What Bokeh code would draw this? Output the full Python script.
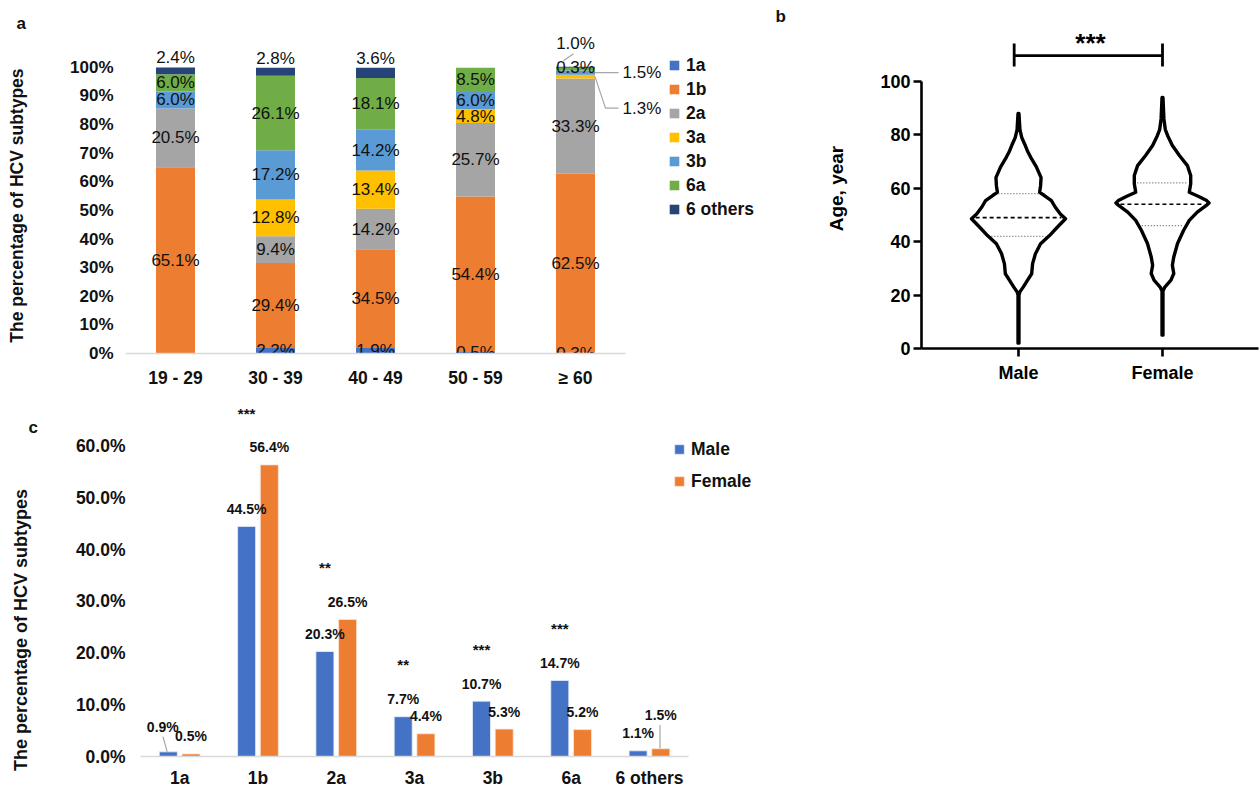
import numpy as np
from bokeh.plotting import figure
from bokeh.layouts import column, row
from bokeh.models import ColumnDataSource, FixedTicker, Legend, LegendItem, Range1d, Title
from bokeh.transform import dodge
from bokeh.embed import file_html
from bokeh.resources import INLINE
from bokeh.core.properties import value

FONT = "Liberation Sans"
INK = "#111111"
NBSP = "\u00a0"

# ---------------- data: panel a ----------------
age_groups = ["19 - 29", "30 - 39", "40 - 49", "50 - 59", "≥ 60"]
subtypes = ["1a", "1b", "2a", "3a", "3b", "6a", "6 others"]
pct_1a = [0.0, 2.2, 1.9, 0.5, 0.3]
pct_1b = [65.1, 29.4, 34.5, 54.4, 62.5]
pct_2a = [20.5, 9.4, 14.2, 25.7, 33.3]
pct_3a = [0.0, 12.8, 13.4, 4.8, 1.3]
pct_3b = [6.0, 17.2, 14.2, 6.0, 1.5]
pct_6a = [6.0, 26.1, 18.1, 8.5, 1.0]
pct_6others = [2.4, 2.8, 3.6, 0.0, 0.3]
subtype_colors = ["#4472C4", "#ED7D31", "#A5A5A5", "#FFC000", "#5B9BD5", "#70AD47", "#264478"]
a_ticks = [0, 10, 20, 30, 40, 50, 60, 70, 80, 90, 100]
a_tick_labels = ["0%", "10%", "20%", "30%", "40%", "50%", "60%", "70%", "80%", "90%", "100%"]

# ---------------- data: panel b ----------------
sexes = ["Male", "Female"]
male_age = [2, 20, 21.2, 23, 25.5, 28, 31.8, 35.5, 39.2, 42.3, 45.5, 48.6, 50.4, 53, 55.4,
            57.3, 58.5, 61, 64, 68, 71.6, 74, 76.6, 79, 82, 85, 88]
male_density = [0.01, 0.01, 0.03, 0.10, 0.19, 0.28, 0.30, 0.36, 0.47, 0.66, 0.83, 1.00, 0.89, 0.78, 0.70,
                0.55, 0.45, 0.47, 0.48, 0.38, 0.26, 0.19, 0.13, 0.07, 0.03, 0.02, 0.01]
female_age = [5, 21.5, 23, 25.6, 28.1, 31.2, 34.3, 39.3, 44.3, 48, 51.1, 53.7, 54.5, 55.4, 56.9,
              58.5, 61.7, 64.8, 68.5, 72.3, 76, 79.7, 82, 86, 90, 94]
female_density = [0.01, 0.01, 0.05, 0.18, 0.24, 0.21, 0.24, 0.32, 0.45, 0.57, 0.74, 0.94, 0.99, 0.94, 0.77,
                  0.57, 0.60, 0.60, 0.53, 0.36, 0.21, 0.11, 0.06, 0.03, 0.02, 0.01]
male_quartiles = [42, 49, 58]
female_quartiles = [46, 54, 62]
b_ticks = [0, 20, 40, 60, 80, 100]
age_significance = "***"

# ---------------- data: panel c ----------------
c_subtypes = ["1a", "1b", "2a", "3a", "3b", "6a", "6 others"]
male_pct = [0.9, 44.5, 20.3, 7.7, 10.7, 14.7, 1.1]
female_pct = [0.5, 56.4, 26.5, 4.4, 5.3, 5.2, 1.5]
c_significance = ["", "***", "**", "**", "***", "***", ""]
c_ticks = [0, 10, 20, 30, 40, 50, 60]
c_tick_labels = ["0.0%", "10.0%", "20.0%", "30.0%", "40.0%", "50.0%", "60.0%"]


def base_style(p):
    p.outline_line_color = None
    p.xgrid.visible = False
    p.ygrid.visible = False
    p.background_fill_color = "white"
    p.border_fill_color = "white"


def axis_text(ax, size, style="bold", color=INK):
    ax.major_label_text_font = FONT
    ax.major_label_text_font_size = size
    ax.major_label_text_font_style = style
    ax.major_label_text_color = color
    ax.axis_label_text_font = FONT
    ax.axis_label_text_font_style = "bold"
    ax.axis_label_text_color = color
    ax.minor_tick_line_color = None


def letter_title(p, txt, offset, standoff):
    p.add_layout(Title(text=txt, align="left", offset=offset, standoff=standoff,
                       text_font=FONT, text_font_size="17px", text_font_style="bold",
                       text_color=INK), "above")


ROW1_H = 390
TOP_B = 28

# =============== panel a ===============
A_PX = 2.87  # px per percent
A_BOT = ROW1_H - 354
A_FRAME_H = ROW1_H - TOP_B - A_BOT
pa = figure(width=773, height=ROW1_H, x_range=Range1d(0.5, 0.5 + 648 / 100),
            y_range=Range1d(0, A_FRAME_H / A_PX),
            output_backend="svg", toolbar_location=None,
            min_border_left=125, min_border_right=0, min_border_top=TOP_B, min_border_bottom=A_BOT)
base_style(pa)
series = [pct_1a, pct_1b, pct_2a, pct_3a, pct_3b, pct_6a, pct_6others]
xa = list(range(1, len(age_groups) + 1))
src_a = ColumnDataSource(dict(x=xa, **{s: v for s, v in zip(subtypes, series)}))
rends_a = pa.vbar_stack(subtypes, x="x", width=0.39, color=subtype_colors, line_color=None, source=src_a)

cen = dict(x=[], y=[], text=[])
top = dict(x=[], y=[], text=[])
rgt = dict(x=[], y=[], text=[])
lead_x, lead_y = [], []
for gi in range(len(age_groups)):
    cx = xa[gi]
    cum = 0.0
    last = gi == len(age_groups) - 1
    for si, s in enumerate(subtypes):
        v = series[si][gi]
        if v <= 0:
            continue
        txt = f"{v:.1f}%"
        mid = cum + v / 2
        if last and s == "3b":
            rgt["x"].append(cx + 0.47); rgt["y"].append(mid); rgt["text"].append(txt)
            lead_x.append([cx + 0.195, cx + 0.43]); lead_y.append([mid, mid])
        elif last and s == "3a":
            ly = mid - 11.0
            rgt["x"].append(cx + 0.47); rgt["y"].append(ly); rgt["text"].append(txt)
            lead_x.append([cx + 0.195, cx + 0.30, cx + 0.43]); lead_y.append([mid, ly, ly])
        elif last and s == "6a":
            cen["x"].append(cx); cen["y"].append(cum + v + 8.4); cen["text"].append(txt)
            lead_x.append([cx - 0.02, cx - 0.12]); lead_y.append([cum + v + 4.9, cum + v + 2.4])
        elif s == "6 others" and not last:
            top["x"].append(cx); top["y"].append(cum + v); top["text"].append(txt)
        else:
            cen["x"].append(cx); cen["y"].append(mid); cen["text"].append(txt)
        cum += v

pa.multi_line(lead_x, lead_y, line_color="#A6A6A6", line_width=1.2)
lab_kw = dict(text_font=value(FONT), text_font_size="17px", text_color=INK)
pa.text(x="x", y="y", text="text", source=ColumnDataSource(cen), text_align="center",
        text_baseline="middle", **lab_kw)
pa.text(x="x", y="y", text="text", source=ColumnDataSource(top), text_align="center",
        text_baseline="bottom", **lab_kw)
pa.text(x="x", y="y", text="text", source=ColumnDataSource(rgt), text_align="left",
        text_baseline="middle", **lab_kw)

axis_text(pa.xaxis[0], "17.5px")
axis_text(pa.yaxis[0], "17px")
pa.xaxis.ticker = FixedTicker(ticks=xa)
pa.xaxis.major_label_overrides = {x: g for x, g in zip(xa, age_groups)}
pa.xaxis.bounds = (0.5, 5.5)
pa.xaxis.axis_line_color = "#D9D9D9"
pa.xaxis.axis_line_width = 1.5
pa.xaxis.major_tick_line_color = None
pa.xaxis.major_tick_out = 0
pa.xaxis.major_tick_in = 0
pa.xaxis.major_label_standoff = 14
pa.yaxis.ticker = FixedTicker(ticks=a_ticks)
pa.yaxis.major_label_overrides = {t: l for t, l in zip(a_ticks, a_tick_labels)}
pa.yaxis.bounds = (0, 100)
pa.yaxis.axis_line_color = None
pa.yaxis.major_tick_line_color = None
pa.yaxis.major_tick_out = 0
pa.yaxis.major_tick_in = 0
pa.yaxis.major_label_standoff = 12
# trailing no-break spaces shift the (frame-centred) label down to where the reference has it
pa.yaxis.axis_label = "The percentage of HCV subtypes" + NBSP * 6
pa.yaxis.axis_label_text_font_size = "17.5px"
pa.yaxis.axis_label_standoff = 40

leg_a = Legend(items=[LegendItem(label=s, renderers=[r]) for s, r in zip(subtypes, rends_a)],
               location=(543, 354 - 220.5), orientation="vertical",
               glyph_width=12, glyph_height=12, label_standoff=6, label_height=21, spacing=3,
               padding=0, margin=0, border_line_color=None, background_fill_alpha=0,
               label_text_font=FONT, label_text_font_size="17.5px", label_text_font_style="bold",
               label_text_color=INK)
pa.add_layout(leg_a)
letter_title(pa, "a", 16 - 125, -9)

# =============== panel b ===============
B_PX_Y = 2.67
B_PX_X = 144.0
B_BOT = ROW1_H - 348
B_FRAME_H = ROW1_H - TOP_B - B_BOT
pb = figure(width=487, height=ROW1_H, x_range=Range1d(1 - 97 / B_PX_X, 1 + 240 / B_PX_X),
            y_range=Range1d(0, B_FRAME_H / B_PX_Y), output_backend="svg", toolbar_location=None,
            min_border_left=148, min_border_right=2, min_border_top=TOP_B, min_border_bottom=B_BOT)
base_style(pb)
W = 47 / B_PX_X
for c, ages, dens, quarts in [(1, male_age, male_density, male_quartiles),
                              (2, female_age, female_density, female_quartiles)]:
    ages = np.array(ages, dtype=float)
    dens = np.array(dens, dtype=float)
    px = np.concatenate([c - dens * W, (c + dens * W)[::-1]])
    py = np.concatenate([ages, ages[::-1]])
    pb.patch(px, py, fill_color="white", line_color="black", line_width=3.4, line_join="round")
    half = [np.interp(q, ages, dens) * W - 3 / B_PX_X for q in quarts]
    pb.segment(x0=[c - half[1]], y0=[quarts[1]], x1=[c + half[1]], y1=[quarts[1]],
               line_color="black", line_width=1.6, line_dash="4 3")
    pb.segment(x0=[c - half[0], c - half[2]], y0=[quarts[0], quarts[2]],
               x1=[c + half[0], c + half[2]], y1=[quarts[0], quarts[2]],
               line_color="#666666", line_width=1.3, line_dash="1 2")

# significance bracket
pb.multi_line(xs=[[0.97, 0.97], [0.97, 2.0], [2.0, 2.0]],
              ys=[[105.6, 114.2], [109.7, 109.7], [105.6, 114.2]], line_color="black", line_width=2.8)
pb.text(x=[1.5], y=[114.6], text=[age_significance], text_align="center", text_baseline="middle",
        text_font=value(FONT), text_font_size="26px", text_font_style="bold", text_color="black")

axis_text(pb.xaxis[0], "18px", color="black")
axis_text(pb.yaxis[0], "18px", color="black")
pb.xaxis.ticker = FixedTicker(ticks=[1, 2])
pb.xaxis.major_label_overrides = {1: sexes[0], 2: sexes[1]}
pb.yaxis.ticker = FixedTicker(ticks=b_ticks)
pb.yaxis.bounds = (0, 100)
for ax in (pb.xaxis[0], pb.yaxis[0]):
    ax.axis_line_color = "black"
    ax.axis_line_width = 2.6
    ax.major_tick_line_color = "black"
    ax.major_tick_line_width = 2.6
    ax.major_tick_out = 8
    ax.major_tick_in = 0
pb.yaxis.major_label_standoff = 3
pb.xaxis.major_label_standoff = 6
pb.yaxis.axis_label = "Age, year"
pb.yaxis.axis_label_text_font_size = "19px"
pb.yaxis.axis_label_standoff = 30
letter_title(pb, "b", 2 - 148, 5)

# =============== panel c ===============
C_PX_Y = 5.2
C_PX_X = 78.3
C_H = 790 - ROW1_H
C_TOP = 408 - ROW1_H
C_BOT = 32
C_FRAME_H = C_H - C_TOP - C_BOT
pc = figure(width=800, height=C_H, x_range=Range1d(0.5, 0.5 + 652 / C_PX_X),
            y_range=Range1d(0, C_FRAME_H / C_PX_Y), output_backend="svg", toolbar_location=None,
            min_border_left=140, min_border_right=8, min_border_top=C_TOP, min_border_bottom=C_BOT)
base_style(pc)
xc = list(range(1, len(c_subtypes) + 1))
src_c = ColumnDataSource(dict(x=xc, male=male_pct, female=female_pct))
OFF = 0.145
r_m = pc.vbar(x=dodge("x", -OFF, range=pc.x_range), top="male", width=0.23, source=src_c,
              fill_color="#4472C4", line_color="#E8EEF8", line_width=0.8)
r_f = pc.vbar(x=dodge("x", OFF, range=pc.x_range), top="female", width=0.23, source=src_c,
              fill_color="#ED7D31", line_color="#FBE5D6", line_width=0.8)

lx, ly, lt = [], [], []
cl_x, cl_y = [], []
for i in range(len(c_subtypes)):
    for off, vals, sex in [(-OFF, male_pct, "m"), (OFF, female_pct, "f")]:
        v = vals[i]
        x = xc[i] + off
        y = v + 3.37
        if i == 0 and sex == "m":
            x, y = xc[i] - 0.215, v + 4.9
            cl_x.append([xc[i] - 0.213, xc[i] - 0.16]); cl_y.append([v + 2.95, v + 0.06])
        if i == len(c_subtypes) - 1 and sex == "f":
            y = v + 6.6
            cl_x.append([x - 0.01, x - 0.01]); cl_y.append([v + 4.6, v + 0.1])
        lx.append(x); ly.append(y); lt.append(f"{v:.1f}%")
pc.multi_line(cl_x, cl_y, line_color="#A6A6A6", line_width=1.2)
pc.text(x=lx, y=ly, text=lt, text_align="center", text_baseline="middle",
        text_font=value(FONT), text_font_size="14px", text_font_style="bold", text_color=INK)
sx, sy, st = [], [], []
for i, s in enumerate(c_significance):
    if s:
        sx.append(xc[i] - OFF)
        sy.append(max(male_pct[i], female_pct[i]) + 10.0)
        st.append(s)
pc.text(x=sx, y=sy, text=st, text_align="center", text_baseline="middle",
        text_font=value(FONT), text_font_size="15px", text_font_style="bold", text_color=INK)

axis_text(pc.xaxis[0], "17.5px")
axis_text(pc.yaxis[0], "17.5px")
pc.xaxis.ticker = FixedTicker(ticks=xc)
pc.xaxis.major_label_overrides = {x: s for x, s in zip(xc, c_subtypes)}
pc.xaxis.bounds = (0.5, 7.5)
pc.xaxis.axis_line_color = "#D9D9D9"
pc.xaxis.axis_line_width = 1.5
pc.xaxis.major_tick_line_color = None
pc.xaxis.major_tick_out = 0
pc.xaxis.major_tick_in = 0
pc.xaxis.major_label_standoff = 11
pc.yaxis.ticker = FixedTicker(ticks=c_ticks)
pc.yaxis.major_label_overrides = {t: l for t, l in zip(c_ticks, c_tick_labels)}
pc.yaxis.bounds = (0, 60)
pc.yaxis.axis_line_color = None
pc.yaxis.major_tick_line_color = None
pc.yaxis.major_tick_out = 0
pc.yaxis.major_tick_in = 0
pc.yaxis.major_label_standoff = 15
pc.yaxis.axis_label = "The percentage of HCV subtypes" + NBSP * 19
pc.yaxis.axis_label_text_font_size = "18px"
pc.yaxis.axis_label_standoff = 42

leg_c = Legend(items=[LegendItem(label="Male", renderers=[r_m]), LegendItem(label="Female", renderers=[r_f])],
               location=(533, C_FRAME_H - 32.5 - 53), orientation="vertical",
               glyph_width=12, glyph_height=12, label_standoff=6, label_height=21, spacing=11,
               padding=0, margin=0, border_line_color=None, background_fill_alpha=0,
               label_text_font=FONT, label_text_font_size="17.5px", label_text_font_style="bold",
               label_text_color=INK)
pc.add_layout(leg_c)
letter_title(pc, "c", 28 - 140, -57)

layout = column(row(pa, column(pb)), pc)
open("out.html", "w").write(file_html(layout, INLINE))
